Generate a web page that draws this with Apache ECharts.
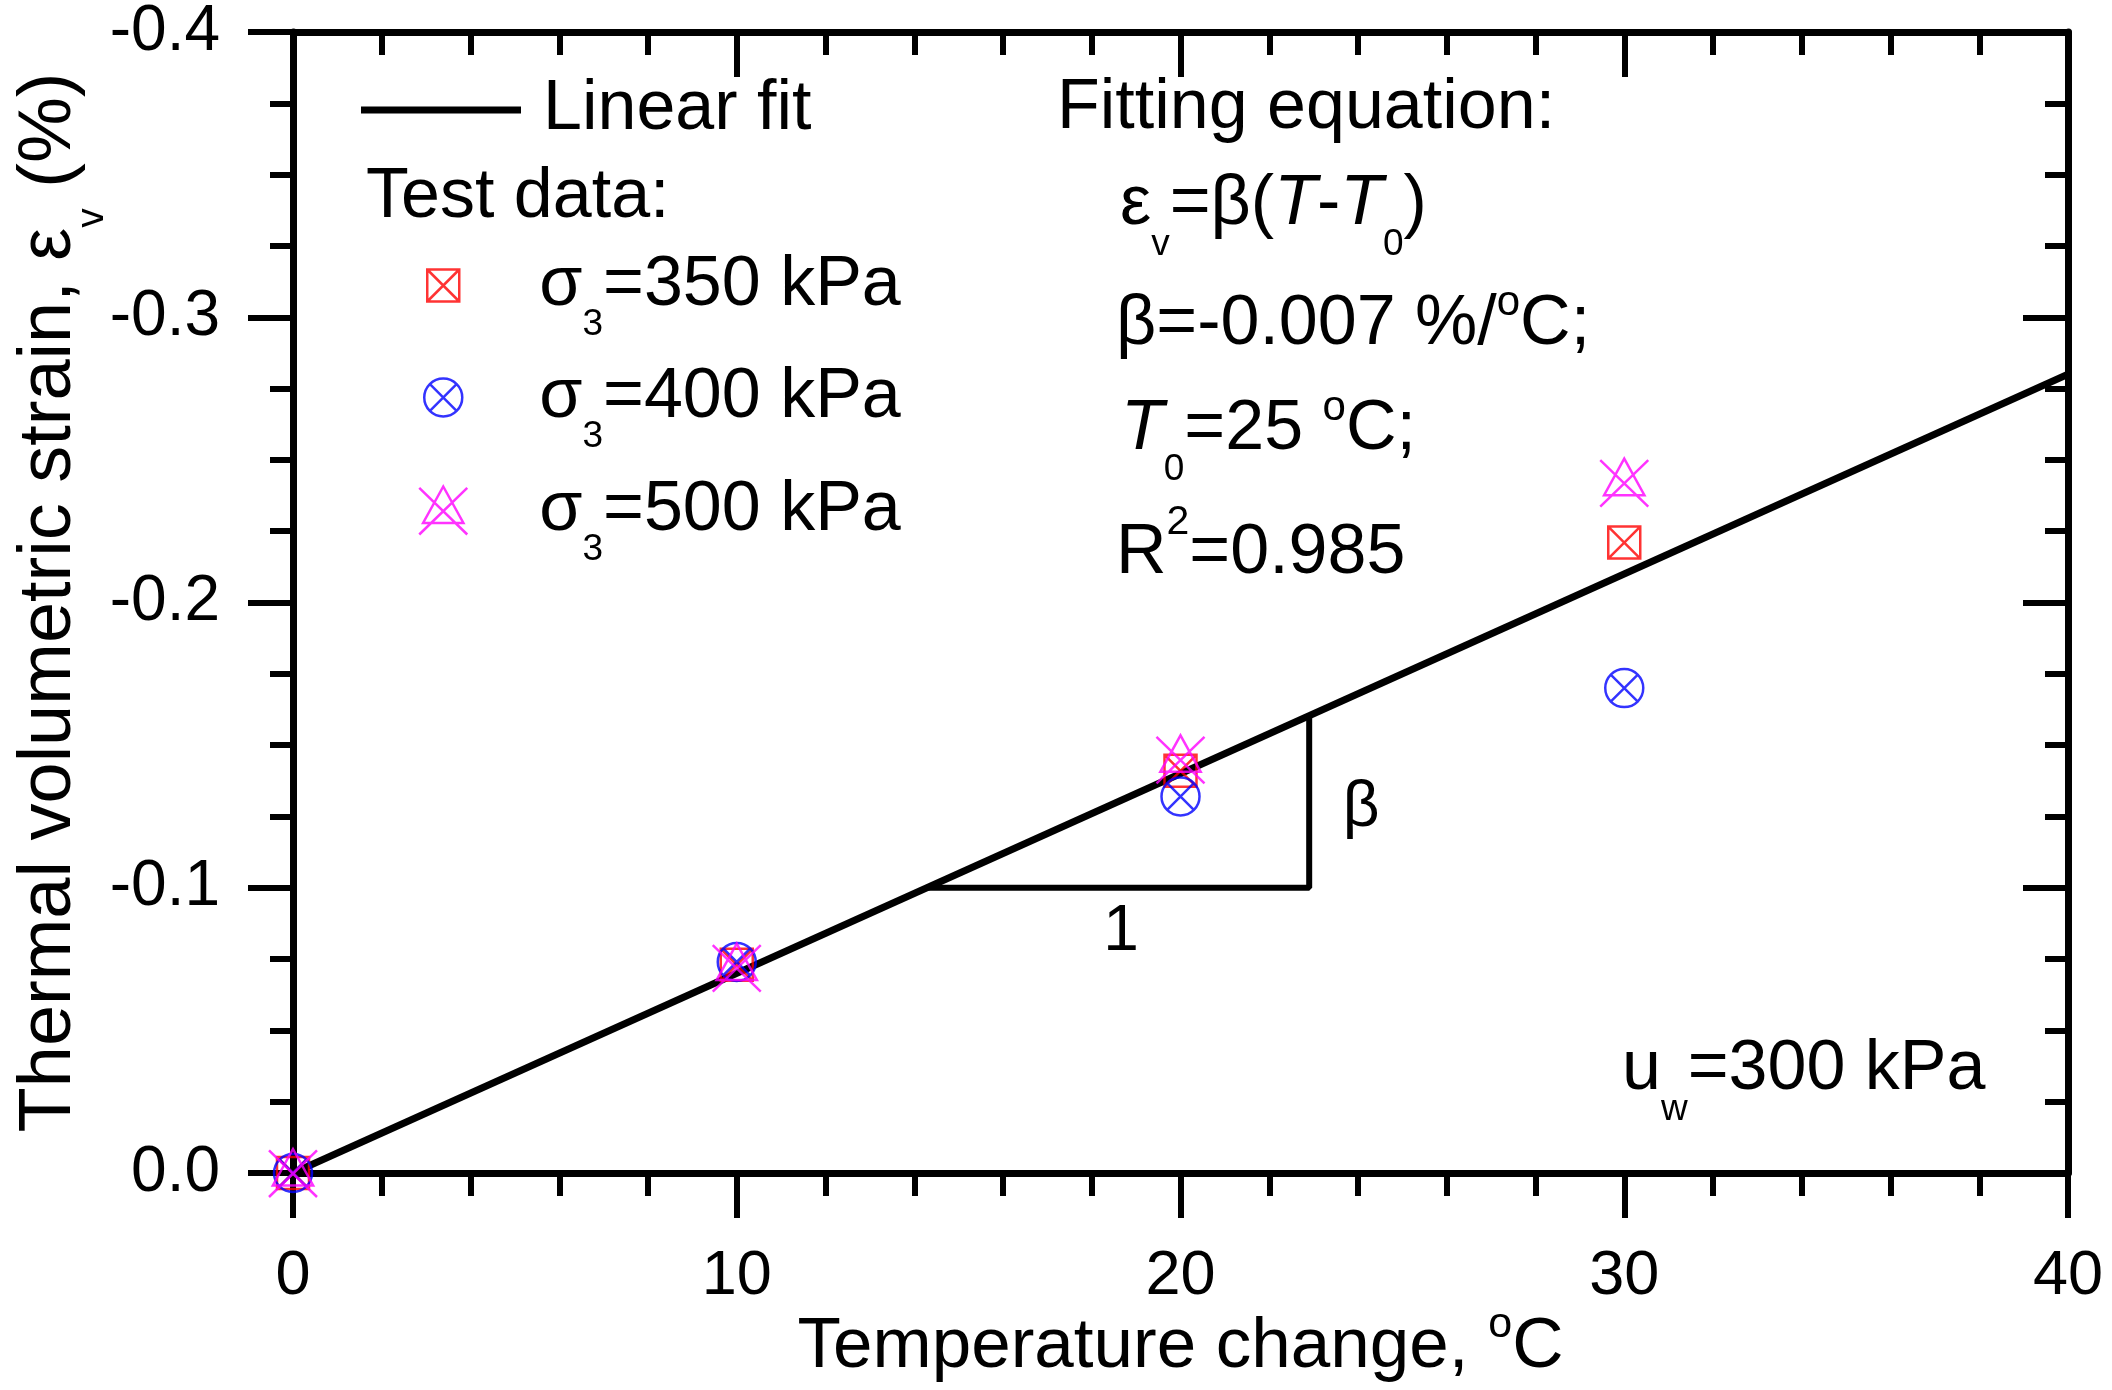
<!DOCTYPE html>
<html>
<head>
<meta charset="utf-8">
<title>Thermal volumetric strain vs temperature change</title>
<script src="https://cdn.jsdelivr.net/npm/echarts@6/dist/echarts.min.js"></script>
<style>
  html, body { margin: 0; padding: 0; background: #fff; }
  #chart { width: 2112px; height: 1390px; }
</style>
</head>
<body>
<div id="chart"></div>
<script>
// ---- data ----
var temperature = [0, 10, 20, 30];
var strain350 = [0, -0.073, -0.141, -0.221];
var strain400 = [0, -0.074, -0.132, -0.170];
var strain500 = [0, -0.072, -0.145, -0.242];
var fitLine = [[0, 0], [40, -0.28]];            // beta = -0.007 %/oC
var slopeTriangle = [[14.29, -0.1], [22.9, -0.1], [22.9, -0.1603]];
var slopeLabels = [
  { coord: [18.66, -0.0845], text: '1' },
  { coord: [24.07, -0.128], text: 'β' }
];
var xTicks = [0, 10, 20, 30, 40];
var yTicks = [-0.4, -0.3, -0.2, -0.1, 0.0];
var seriesNames = ['σ3=350 kPa', 'σ3=400 kPa', 'σ3=500 kPa'];
var legendLabels = [
  '{t|σ}{sub|3}{t|=350 kPa}',
  '{t|σ}{sub|3}{t|=400 kPa}',
  '{t|σ}{sub|3}{t|=500 kPa}'
];

var FONT = '"Liberation Sans", Arial, Helvetica, sans-serif';
var NOTE_SIZE = 70;

// hollow marker shapes (Origin style)
var SQUARE_X = 'path://M0 0L10 0L10 10L0 10ZM0 0L10 10M10 0L0 10';
var CIRCLE_X = 'path://M0 5A5 5 0 1 1 10 5A5 5 0 1 1 0 5ZM1.3 1.3L8.7 8.7M8.7 1.3L1.3 8.7';
var TRI_X = 'path://M5 0L9.2 7.6L0.8 7.6ZM0 0.3L10 10M10 0.3L0 10';

// rich text styles: main text, italic, subscript, superscript, degree "o"
function richFor(F) {
  var lh = Math.round(1.7 * F);
  function tok(size, extra) {
    var o = { fontSize: size, fontFamily: FONT, color: '#000', fill: '#000', lineHeight: size };
    for (var k in extra) o[k] = extra[k];
    return o;
  }
  return {
    t: tok(F, { lineHeight: lh }),
    ti: tok(F, { lineHeight: lh, fontStyle: 'italic' }),
    sub: tok(Math.round(0.53 * F), { padding: [Math.round(1.13 * F), 0, 0, 0] }),
    sup: tok(Math.round(0.58 * F), { padding: [0, 0, Math.round(0.9 * F), 0] }),
    deg: tok(Math.round(0.6 * F), { padding: [0, 0, Math.round(0.62 * F), 0] })
  };
}

var richNote = richFor(NOTE_SIZE);
var noteHalf = Math.round(1.7 * NOTE_SIZE) / 2;

function richWithGap(gap) {
  var r = richFor(NOTE_SIZE);
  r.gap = { width: gap, fontSize: NOTE_SIZE, fontFamily: FONT, lineHeight: NOTE_SIZE };
  return r;
}

function zip(xs, ys) {
  return xs.map(function (x, i) { return [x, ys[i]]; });
}

var myChart = echarts.init(document.getElementById('chart'));

var axisLineStyle = { color: '#000', width: 7 };
var tickStyle = { color: '#000', width: 6 };

function xAxisFor(pos) {
  var bottom = pos === 'bottom';
  return {
    type: 'value',
    position: pos,
    min: xTicks[0],
    max: xTicks[xTicks.length - 1],
    interval: xTicks[1] - xTicks[0],
    axisLine: { show: true, onZero: false, lineStyle: axisLineStyle },
    axisTick: { show: true, inside: !bottom, length: 45, lineStyle: tickStyle },
    minorTick: { show: true, splitNumber: 5, length: 23, lineStyle: tickStyle },
    splitLine: { show: false },
    minorSplitLine: { show: false },
    axisLabel: {
      show: bottom, fontSize: 63, fontFamily: FONT, color: '#000', margin: 72,
      showMinLabel: true, showMaxLabel: true
    },
    name: bottom ? '{t|Temperature change, }{deg|o}{t|C}' : '',
    nameLocation: 'middle',
    nameGap: 174,
    nameMoveOverlap: false,
    nameTextStyle: { rich: richFor(71), verticalAlign: 'middle', align: 'center' }
  };
}

function yAxisFor(pos) {
  var left = pos === 'left';
  return {
    type: 'value',
    position: pos,
    inverse: true,
    min: yTicks[0],
    max: yTicks[yTicks.length - 1],
    interval: 0.1,
    axisLine: { show: true, onZero: false, lineStyle: axisLineStyle },
    axisTick: { show: true, inside: !left, length: 45, lineStyle: tickStyle },
    minorTick: { show: true, splitNumber: 4, length: 23, lineStyle: tickStyle },
    splitLine: { show: false },
    minorSplitLine: { show: false },
    axisLabel: {
      show: left, fontSize: 64, fontFamily: FONT, color: '#000', margin: 73,
      showMinLabel: true, showMaxLabel: true,
      formatter: function (v) { return Number(v).toFixed(1); }
    },
    name: left ? '{t|Thermal volumetric strain, ε}{sub|v}{t| (%)}' : '',
    nameLocation: 'middle',
    nameRotate: 90,
    nameGap: 243,
    nameMoveOverlap: false,
    nameTextStyle: { rich: richFor(74), verticalAlign: 'middle', align: 'center' }
  };
}

function scatterSeries(name, values, symbol, size, color) {
  return {
    name: name,
    type: 'scatter',
    data: zip(temperature, values),
    symbol: symbol,
    symbolSize: size,
    symbolKeepAspect: true,
    itemStyle: { color: 'rgba(0,0,0,0)', borderColor: color, borderWidth: 2.5 },
    silent: true,
    z: 4
  };
}

// symbol centred at x=442, text starting at x=538
function symbolLegend(i, centerY, size) {
  var left = 442 - size / 2;
  return {
    data: [seriesNames[i]],
    left: left,
    top: centerY - noteHalf,
    padding: 0,
    itemWidth: size,
    itemHeight: size,
    selectedMode: false,
    itemStyle: { borderWidth: 2.5 },
    formatter: function () { return '{gap| }' + legendLabels[i]; },
    textStyle: { rich: richWithGap(538 - (left + size + 5)) }
  };
}

var notes = [
  { text: '{t|Test data:}', x: 366, y: 198 },
  { text: '{t|Fitting equation:}', x: 1057, y: 109 },
  { text: '{t|ε}{sub|v}{t|=β(}{ti|T}{t|-}{ti|T}{sub|0}{t|)}', x: 1120, y: 205 },
  { text: '{t|β=-0.007 %/}{deg|o}{t|C;}', x: 1116, y: 325 },
  { text: '{ti|T}{sub|0}{t|=25 }{deg|o}{t|C;}', x: 1121, y: 430 },
  { text: '{t|R}{sup|2}{t|=0.985}', x: 1116, y: 554 },
  { text: '{t|u}{sub|w}{t|=300 kPa}', x: 1622, y: 1070 }
];

function noteElements() {
  return notes.map(function (n) {
    return {
      type: 'text',
      x: n.x,
      y: n.y,
      z: 10,
      silent: true,
      style: { text: n.text, rich: richNote, align: 'left', verticalAlign: 'middle' }
    };
  });
}

var option = {
  animation: false,
  backgroundColor: '#fff',
  textStyle: { fontFamily: FONT, color: '#000' },
  grid: { left: 293, right: 44, top: 32, bottom: 217, containLabel: false, outerBoundsMode: 'none' },
  xAxis: [xAxisFor('bottom'), xAxisFor('top')],
  yAxis: [yAxisFor('left'), yAxisFor('right')],
  legend: [
    {
      data: [{ name: 'Linear fit', icon: 'rect' }],
      left: 361,
      top: 110 - NOTE_SIZE / 2,
      padding: 0,
      itemWidth: 160,
      itemHeight: 7,
      selectedMode: false,
      itemStyle: { color: '#000' },
      formatter: '{gap| }{t|Linear fit}',
      textStyle: { rich: richWithGap(543 - (361 + 160 + 5)) }
    },
    symbolLegend(0, 287, 32),
    symbolLegend(1, 399, 38),
    symbolLegend(2, 512, 48)
  ],
  graphic: noteElements(),
  series: [
    {
      name: 'Linear fit',
      type: 'line',
      data: fitLine,
      symbol: 'none',
      lineStyle: { color: '#000', width: 7 },
      itemStyle: { color: '#000' },
      silent: true,
      z: 2
    },
    {
      type: 'line',
      data: slopeTriangle,
      symbol: 'none',
      lineStyle: { color: '#000', width: 6 },
      silent: true,
      z: 2
    },
    scatterSeries(seriesNames[0], strain350, SQUARE_X, 32, '#ff0000'),
    scatterSeries(seriesNames[1], strain400, CIRCLE_X, 38, '#0000ff'),
    scatterSeries(seriesNames[2], strain500, TRI_X, 48, '#ff00ff')
  ]
};

myChart.setOption(option);

// "1" and "beta" of the slope triangle, placed through the axes
var slopeTexts = slopeLabels.map(function (s) {
  var p = myChart.convertToPixel({ gridIndex: 0 }, s.coord);
  return {
    type: 'text',
    x: p[0],
    y: p[1],
    z: 10,
    silent: true,
    style: {
      text: s.text, fontSize: 64, fontFamily: FONT, fill: '#000',
      align: 'center', verticalAlign: 'middle'
    }
  };
});
myChart.setOption({ graphic: noteElements().concat(slopeTexts) });
</script>
</body>
</html>
